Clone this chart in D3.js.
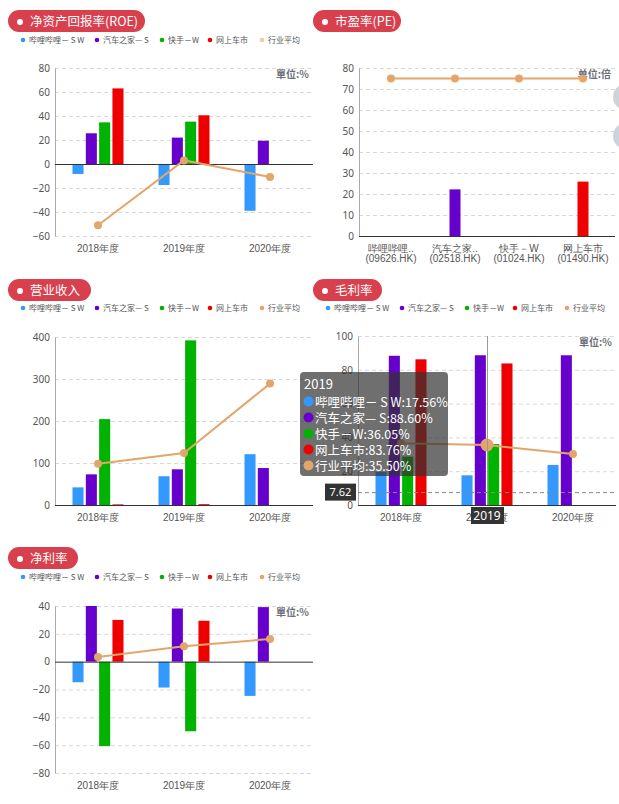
<!DOCTYPE html>
<html><head><meta charset="utf-8">
<script src="https://cdn.jsdelivr.net/npm/d3@7"></script>
<style>
body{margin:0;background:#fff}
svg{display:block;font-family:"Noto Sans CJK SC","Noto Sans",sans-serif}
</style>
</head><body>
<svg id="c" width="619" height="804"></svg>
<script>
// ---------- data ----------
const seriesNames = ["哔哩哔哩－ S W", "汽车之家— S", "快手－W", "网上车市", "行业平均"];
const seriesColors = ["#3399ff", "#6600cc", "#00b300", "#ee0000", "#e3a66a"];
const years = ["2018年度", "2019年度", "2020年度"];

// 净资产回报率(ROE) %
const roeBili = [-8.3, -17.5, -39];
const roeAuto = [25.6, 22, 19.4];
const roeKuai = [34.7, 35.3, null];
const roeChe  = [63, 40.6, null];
const roeAvg  = [-51, 3, -10.8];
const roeTicks = [-60, -40, -20, 0, 20, 40, 60, 80];

// 市盈率(PE) 倍
const peCats = ["哔哩哔哩..|(09626.HK)", "汽车之家..|(02518.HK)", "快手－W|(01024.HK)", "网上车市|(01490.HK)"];
const peValues = [null, 22.2, null, 25.9];
const peAvg = [75, 75, 75, 75];
const peTicks = [0, 10, 20, 30, 40, 50, 60, 70, 80];

// 营业收入
const revBili = [42, 68.5, 121];
const revAuto = [73, 85, 88];
const revKuai = [204.5, 392, null];
const revChe  = [1.5, 2, null];
const revAvg  = [98, 124, 289];
const revTicks = [0, 100, 200, 300, 400];

// 毛利率 %
const gmBili = [19.5, 17.56, 23.7];
const gmAuto = [88.3, 88.60, 88.6];
const gmKuai = [28.6, 36.05, null];
const gmChe  = [86.2, 83.76, null];
const gmAvg  = [36.5, 35.50, 30.2];
const gmTicks = [0, 20, 40, 60, 80, 100];

// 净利率 %
const nmBili = [-14.8, -18.6, -24.6];
const nmAuto = [40, 38.2, 39.2];
const nmKuai = [-60.7, -50, null];
const nmChe  = [30, 29.4, null];
const nmAvg  = [3.4, 11, 16.3];
const nmTicks = [-80, -60, -40, -20, 0, 20, 40];

// ---------- drawing ----------
const svg = d3.select("#c");
const gridColor = "#d8d8d8";
const labelColor = "#555";

function pill(x, y, w, text) {
  const g = svg.append("g");
  g.append("rect").attr("x", x).attr("y", y).attr("width", w).attr("height", 22)
    .attr("rx", 11).attr("fill", "#d9404e");
  g.append("circle").attr("cx", x + 12).attr("cy", y + 12).attr("r", 3).attr("fill", "#fff");
  g.append("text").attr("x", x + 22).attr("y", y + 15.5).attr("fill", "#fff")
    .attr("font-size", 12.5).text(text);
}

function legend(x, y, light) {
  const offs = [0, 74, 139, 187, 239];
  const g = svg.append("g");
  seriesNames.forEach((n, i) => {
    const c = (i === 4 && light) ? "#e8cfa0" : seriesColors[i];
    g.append("circle").attr("cx", x + offs[i]).attr("cy", y).attr("r", 2.3).attr("fill", c);
    g.append("text").attr("x", x + offs[i] + 6).attr("y", y + 3).attr("font-size", 8)
      .attr("fill", labelColor).text(n);
  });
}

function panel(o) {
  const g = svg.append("g");
  const x = d3.scaleBand().domain(o.cats).range([o.x0, o.x1]);
  const y = d3.scaleLinear().domain([o.ticks[0], o.ticks[o.ticks.length - 1]]).range([o.yBot, o.yTop]);
  // grid
  g.selectAll(".grid").data(o.ticks.filter(t => t !== 0)).enter().append("line")
    .attr("x1", o.x0).attr("x2", o.x1)
    .attr("y1", d => y(d) + 0.5).attr("y2", d => y(d) + 0.5)
    .attr("stroke", gridColor).attr("stroke-dasharray", "4,3");
  // y axis
  const ya = g.append("g").attr("transform", `translate(${o.x0},0)`)
    .call(d3.axisLeft(y).tickValues(o.ticks).tickSize(0).tickPadding(5));
  ya.select(".domain").attr("stroke", "#aaa");
  ya.selectAll("text").attr("font-size", 10).attr("fill", labelColor).attr("font-family", "Noto Sans, sans-serif");
  // x axis labels
  const xa = g.append("g").attr("transform", `translate(0,${o.yBot})`)
    .call(d3.axisBottom(x).tickSize(0).tickPadding(7).tickFormat(d => ""));
  xa.select(".domain").remove();
  xa.selectAll(".tick text").each(function (d) {
    const parts = d.split("|");
    const t = d3.select(this).attr("font-size", 10).attr("fill", labelColor).attr("dy", null);
    parts.forEach((p, i) => t.append("tspan").attr("x", 0).attr("dy", i === 0 ? "0.85em" : "1.05em").text(p));
  });
  // bars
  if (o.bars) {
    const sub = d3.scaleBand().domain(d3.range(o.bars.length)).range([-25.5, 25.5]).paddingInner(0.17);
    o.bars.forEach((vals, si) => {
      g.selectAll(null).data(vals.map((v, i) => ({ v, c: o.cats[i] })).filter(d => d.v !== null))
        .enter().append("rect")
        .attr("x", d => x(d.c) + x.bandwidth() / 2 + sub(si))
        .attr("width", sub.bandwidth())
        .attr("y", d => y(Math.max(0, d.v)))
        .attr("height", d => Math.abs(y(d.v) - y(0)))
        .attr("fill", seriesColors[si]);
    });
  }
  if (o.single) {
    g.selectAll(null).data(o.single.map((v, i) => ({ v, c: o.cats[i], i })).filter(d => d.v !== null))
      .enter().append("rect")
      .attr("x", d => x(d.c) + x.bandwidth() / 2 - 5.5).attr("width", 11)
      .attr("y", d => y(d.v)).attr("height", d => y(0) - y(d.v))
      .attr("fill", d => seriesColors[d.i]);
  }
  // zero line
  g.append("line").attr("x1", o.x0).attr("x2", o.x1).attr("y1", y(0) + 0.5).attr("y2", y(0) + 0.5)
    .attr("stroke", "#333").attr("stroke-width", 1);
  // unit
  if (o.unit) {
    g.append("text").attr("x", o.x1 - 4).attr("y", o.yTop + 10).attr("text-anchor", "end")
      .attr("font-size", 10).attr("font-weight", "bold").attr("fill", "#6e7079").text(o.unit);
  }
  // line
  const pts = o.line.map((v, i) => [x(o.cats[i]) + x.bandwidth() / 2, y(v)]);
  g.append("path").attr("d", d3.line()(pts)).attr("fill", "none")
    .attr("stroke", seriesColors[4]).attr("stroke-width", 2);
  g.selectAll(null).data(pts).enter().append("circle")
    .attr("cx", d => d[0]).attr("cy", d => d[1])
    .attr("r", (d, i) => (o.emph === i ? 6.5 : 4))
    .attr("fill", seriesColors[4]);
  return { x, y };
}

// ROE
pill(8, 10, 137, "净资产回报率(ROE)");
legend(23, 40, true);
panel({ cats: years, x0: 55, x1: 313, yTop: 68, yBot: 236, ticks: roeTicks,
  bars: [roeBili, roeAuto, roeKuai, roeChe], line: roeAvg, unit: "單位:%" });

// PE
pill(313, 10, 88, "市盈率(PE)");
panel({ cats: peCats, x0: 359, x1: 615, yTop: 68, yBot: 236, ticks: peTicks,
  single: peValues, line: peAvg, unit: "单位:倍" });
// decorative side buttons
svg.append("circle").attr("cx", 626).attr("cy", 97).attr("r", 13).attr("fill", "#cdd3da");
svg.append("circle").attr("cx", 626).attr("cy", 136).attr("r", 13).attr("fill", "#cdd3da");

// 营业收入
pill(8, 279, 83, "营业收入");
legend(23, 308, false);
panel({ cats: years, x0: 55, x1: 313, yTop: 337, yBot: 505, ticks: revTicks,
  bars: [revBili, revAuto, revKuai, revChe], line: revAvg });

// 毛利率
pill(313, 279, 69, "毛利率");
legend(328, 308, false);
const gm = panel({ cats: years, x0: 358, x1: 616, yTop: 336, yBot: 505, ticks: gmTicks,
  bars: [gmBili, gmAuto, gmKuai, gmChe], line: gmAvg, unit: "單位:%", emph: 1 });

// 净利率
pill(8, 547, 70, "净利率");
legend(23, 577, false);
panel({ cats: years, x0: 55, x1: 313, yTop: 606, yBot: 773, ticks: nmTicks,
  bars: [nmBili, nmAuto, nmKuai, nmChe], line: nmAvg, unit: "單位:%" });

// ---------- tooltip / axis pointer on 毛利率 ----------
const px = gm.x("2019年度") + gm.x.bandwidth() / 2;
const pyVal = 7.62;
const py = gm.y(pyVal);
svg.append("line").attr("x1", px + 0.5).attr("x2", px + 0.5).attr("y1", 336).attr("y2", 505)
  .attr("stroke", "#999").attr("stroke-width", 1);
svg.append("line").attr("x1", 358).attr("x2", 616).attr("y1", py + 0.5).attr("y2", py + 0.5)
  .attr("stroke", "#888").attr("stroke-dasharray", "4,3");
// x pointer label
svg.append("rect").attr("x", px - 16).attr("y", 507).attr("width", 33).attr("height", 17).attr("fill", "#333");
svg.append("text").attr("x", px).attr("y", 520).attr("text-anchor", "middle").attr("fill", "#fff")
  .attr("font-size", 12).attr("font-family", "Noto Sans, sans-serif").text("2019");
// y pointer label
svg.append("rect").attr("x", 325).attr("y", py - 8.5).attr("width", 31).attr("height", 17).attr("fill", "#333");
svg.append("text").attr("x", 340.5).attr("y", py + 4).attr("text-anchor", "middle").attr("fill", "#fff")
  .attr("font-size", 11).attr("font-family", "Noto Sans, sans-serif").text(pyVal.toFixed(2));

const tipVals = [gmBili[1], gmAuto[1], gmKuai[1], gmChe[1], gmAvg[1]];
const tip = svg.append("g");
tip.append("rect").attr("x", 300).attr("y", 372).attr("width", 148).attr("height", 104).attr("rx", 4)
  .attr("fill", "rgba(50,50,50,0.7)");
tip.append("text").attr("x", 304).attr("y", 389).attr("fill", "#fff").attr("font-size", 13).text("2019");
tipVals.forEach((v, i) => {
  const cy = 401.5 + i * 16;
  tip.append("circle").attr("cx", 308.5).attr("cy", cy).attr("r", 5).attr("fill", seriesColors[i]);
  tip.append("text").attr("x", 315).attr("y", cy + 5).attr("fill", "#fff").attr("font-size", 12.5)
    .text(seriesNames[i] + ":" + v.toFixed(2) + "%");
});
</script>
</body></html>
